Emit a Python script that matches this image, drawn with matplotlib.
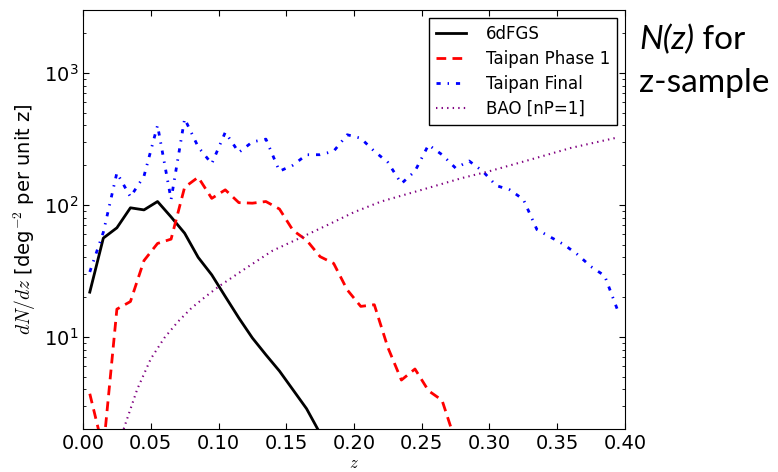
import numpy as np
import matplotlib
matplotlib.use("Agg")
import matplotlib.pyplot as plt
from matplotlib.ticker import LogLocator, FixedLocator

# bin centres shared by the survey curves
z_bins = [0.005, 0.015, 0.025, 0.035, 0.045, 0.055, 0.065, 0.075, 0.085, 0.095,
          0.105, 0.115, 0.125, 0.135, 0.145, 0.155, 0.165, 0.175, 0.185, 0.195,
          0.205, 0.215, 0.225, 0.235, 0.245, 0.255, 0.265, 0.275, 0.285, 0.295,
          0.305, 0.315, 0.325, 0.335, 0.345, 0.355, 0.365, 0.375, 0.385, 0.395]

sixdf = [21.8, 56, 67, 95, 91.6, 106, 81, 61, 40, 29.5,
         20.2, 13.9, 9.8, 7.3, 5.5, 3.96, 2.85, 1.85]

phase1 = [3.7, 1.4, 16.2, 18.5, 37.8, 51, 55, 136, 162, 112,
          130, 104, 103, 106, 93, 64, 54, 40.5, 36, 22.7,
          17, 17.5, 8.3, 4.7, 5.7, 3.9, 3.3, 1.6]

final = [31, 62, 175, 115, 165, 400, 110, 450, 275, 205,
         355, 250, 300, 315, 180, 200, 240, 240, 255, 340,
         320, 255, 210, 145, 180, 285, 240, 190, 215, 180,
         140, 130, 110, 65, 57, 50, 42, 34, 29, 15.5]

z_bao = [0.03, 0.04, 0.05, 0.06, 0.07, 0.08, 0.09, 0.10, 0.12, 0.14,
         0.16, 0.18, 0.20, 0.22, 0.25, 0.28, 0.30, 0.33, 0.36, 0.395]
bao = [2.0, 4.0, 6.8, 9.8, 13, 16.5, 20, 24, 33, 45,
       56, 70, 88, 106, 130, 160, 180, 220, 270, 325]

plt.rcParams['lines.scale_dashes'] = False
plt.rcParams['xtick.direction'] = 'in'
plt.rcParams['ytick.direction'] = 'in'
plt.rcParams['xtick.top'] = True
plt.rcParams['ytick.right'] = True
plt.rcParams['xtick.major.size'] = 4
plt.rcParams['ytick.major.size'] = 4
plt.rcParams['ytick.minor.size'] = 2

fig = plt.figure(figsize=(7.78, 4.72), dpi=100)
ax = fig.add_axes([0.1067, 0.0911, 0.6966, 0.8877])

ax.plot(z_bins[:len(sixdf)], sixdf, color='black', lw=2, label='6dFGS')
ax.plot(z_bins[:len(phase1)], phase1, color='red', lw=2, dashes=(7, 4.5),
        label='Taipan Phase 1')
ax.plot(z_bins, final, color='blue', lw=2, dashes=(3, 5, 1, 5),
        label='Taipan Final')
ax.plot(z_bao, bao, color='purple', lw=1.5, dashes=(1, 3),
        label='BAO [nP=1]')

ax.set_yscale('log')
ax.set_xlim(0, 0.4)
ax.set_ylim(2, 3000)
ax.xaxis.set_major_locator(FixedLocator(np.arange(0, 0.41, 0.05)))
ax.set_xticklabels(['%.2f' % v for v in np.arange(0, 0.41, 0.05)])
ax.yaxis.set_minor_locator(LogLocator(base=10, subs=np.arange(2, 10)))
ax.tick_params(labelsize=14)

ax.set_xlabel('$z$', fontsize=12, math_fontfamily='cm', labelpad=1)
ax.set_ylabel(r'$dN/dz$ [deg$^{-2}$ per unit z]', fontsize=14,
              math_fontfamily='cm')

leg = ax.legend(loc='upper right', fontsize=12, fancybox=False,
                framealpha=1, edgecolor='black', borderaxespad=0.5,
                labelspacing=0.42, handletextpad=1.2, handlelength=1.8)
leg.get_frame().set_linewidth(1)

t1 = fig.text(639 / 778, 1 - 49 / 472, 'N(z)', family='Lato', style='italic',
              fontsize=24)
fig.canvas.draw()
bb = t1.get_window_extent()
fig.text(bb.x1 / fig.bbox.width, 1 - 49 / 472, ' for', family='Lato',
         fontsize=24)
fig.text(639 / 778, 1 - 92 / 472, 'z-sample', family='Lato', fontsize=24)

fig.savefig('out.png', dpi=100)
